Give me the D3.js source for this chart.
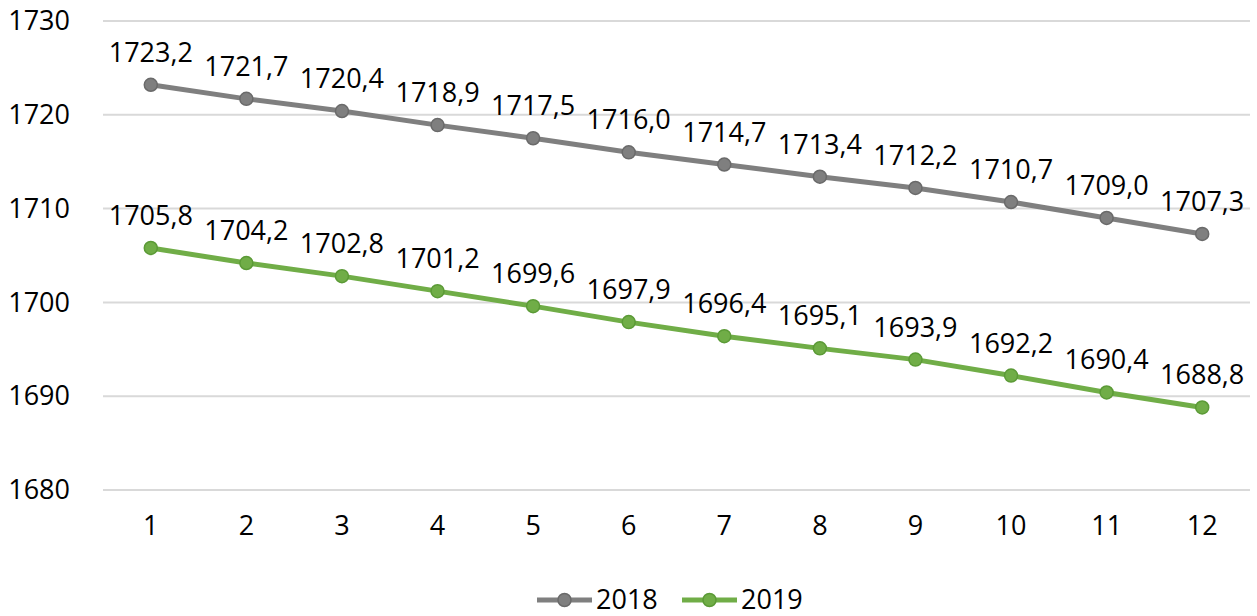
<!DOCTYPE html>
<html>
<head>
<meta charset="utf-8">
<script src="https://cdn.jsdelivr.net/npm/d3@7"></script>
<style>
  body { margin: 0; background: #fff; }
  svg { display: block; font-family: "Open Sans", sans-serif; }
</style>
</head>
<body>
<svg id="chart" width="1257" height="616"></svg>
<script>
var months = [1, 2, 3, 4, 5, 6, 7, 8, 9, 10, 11, 12];
var values2018 = [1723.2, 1721.7, 1720.4, 1718.9, 1717.5, 1716.0, 1714.7, 1713.4, 1712.2, 1710.7, 1709.0, 1707.3];
var values2019 = [1705.8, 1704.2, 1702.8, 1701.2, 1699.6, 1697.9, 1696.4, 1695.1, 1693.9, 1692.2, 1690.4, 1688.8];
var yTicks = [1680, 1690, 1700, 1710, 1720, 1730];
var seriesNames = ["2018", "2019"];

var series = [
    { name: seriesNames[0], values: values2018, color: "#7f7f7f", edge: "#6a6a6a" },
    { name: seriesNames[1], values: values2019, color: "#70ad47", edge: "#5b9a36" }
];

var svg = d3.select("#chart");
// plot area edges (note: "top" is reserved on window, so use plot* names)
var plotLeft = 103, plotRight = 1250, plotTop = 21, plotBottom = 490;
var fontSize = "27px";

var x = d3.scaleBand().domain(months).range([plotLeft, plotRight]).padding(0);
var y = d3.scaleLinear().domain([1680, 1730]).range([plotBottom, plotTop]);
function cx(d) { return x(d) + x.bandwidth() / 2; }

// gridlines
svg.append("g")
    .selectAll("line")
    .data(yTicks)
    .enter().append("line")
    .attr("x1", plotLeft)
    .attr("x2", plotRight)
    .attr("y1", function(d) { return y(d); })
    .attr("y2", function(d) { return y(d); })
    .style("stroke", "#d9d9d9")
    .style("stroke-width", "2px");

// y axis labels
var yAxis = d3.axisLeft(y).tickValues(yTicks).tickSize(0).tickPadding(0).tickFormat(d3.format("d"));
var gy = svg.append("g").attr("transform", "translate(70,0)").call(yAxis);
gy.select(".domain").remove();
gy.selectAll("text")
    .style("font-family", "Open Sans, sans-serif")
    .style("font-size", fontSize)
    .style("fill", "#000");

// x axis labels
var xAxis = d3.axisBottom(x).tickSize(0).tickPadding(0);
var gx = svg.append("g").attr("transform", "translate(0," + (plotBottom + 26) + ")").call(xAxis);
gx.select(".domain").remove();
gx.selectAll("text")
    .style("font-family", "Open Sans, sans-serif")
    .style("font-size", fontSize)
    .style("fill", "#000");

var line = d3.line()
    .x(function(d, i) { return cx(months[i]); })
    .y(function(d) { return y(d); });

series.forEach(function(s) {
    var g = svg.append("g");
    g.append("path")
        .attr("d", line(s.values))
        .style("fill", "none")
        .style("stroke", s.color)
        .style("stroke-width", "5px")
        .style("stroke-linejoin", "round");
    g.selectAll("circle")
        .data(s.values)
        .enter().append("circle")
        .attr("cx", function(d, i) { return cx(months[i]); })
        .attr("cy", function(d) { return y(d); })
        .attr("r", 6.5)
        .style("fill", s.color)
        .style("stroke", s.edge)
        .style("stroke-width", "1.5px");
    g.selectAll("text")
        .data(s.values)
        .enter().append("text")
        .attr("x", function(d, i) { return cx(months[i]); })
        .attr("y", function(d) { return y(d) - 23; })
        .attr("text-anchor", "middle")
        .style("font-size", fontSize)
        .style("fill", "#000")
        .text(function(d) { return d.toFixed(1).replace(".", ","); });
});

// legend
var legend = svg.append("g").attr("transform", "translate(0,600)");
var legendX = [537, 682];
series.forEach(function(s, i) {
    var lg = legend.append("g").attr("transform", "translate(" + legendX[i] + ",0)");
    lg.append("line")
        .attr("x1", 0).attr("x2", 55)
        .attr("y1", 0).attr("y2", 0)
        .style("stroke", s.color)
        .style("stroke-width", "5px");
    lg.append("circle")
        .attr("cx", 27.5).attr("cy", 0).attr("r", 6.5)
        .style("fill", s.color)
        .style("stroke", s.edge)
        .style("stroke-width", "1.5px");
    lg.append("text")
        .attr("x", 59).attr("y", 0)
        .attr("dy", "0.35em")
        .style("font-size", fontSize)
        .style("fill", "#000")
        .text(s.name);
});
</script>
</body>
</html>
